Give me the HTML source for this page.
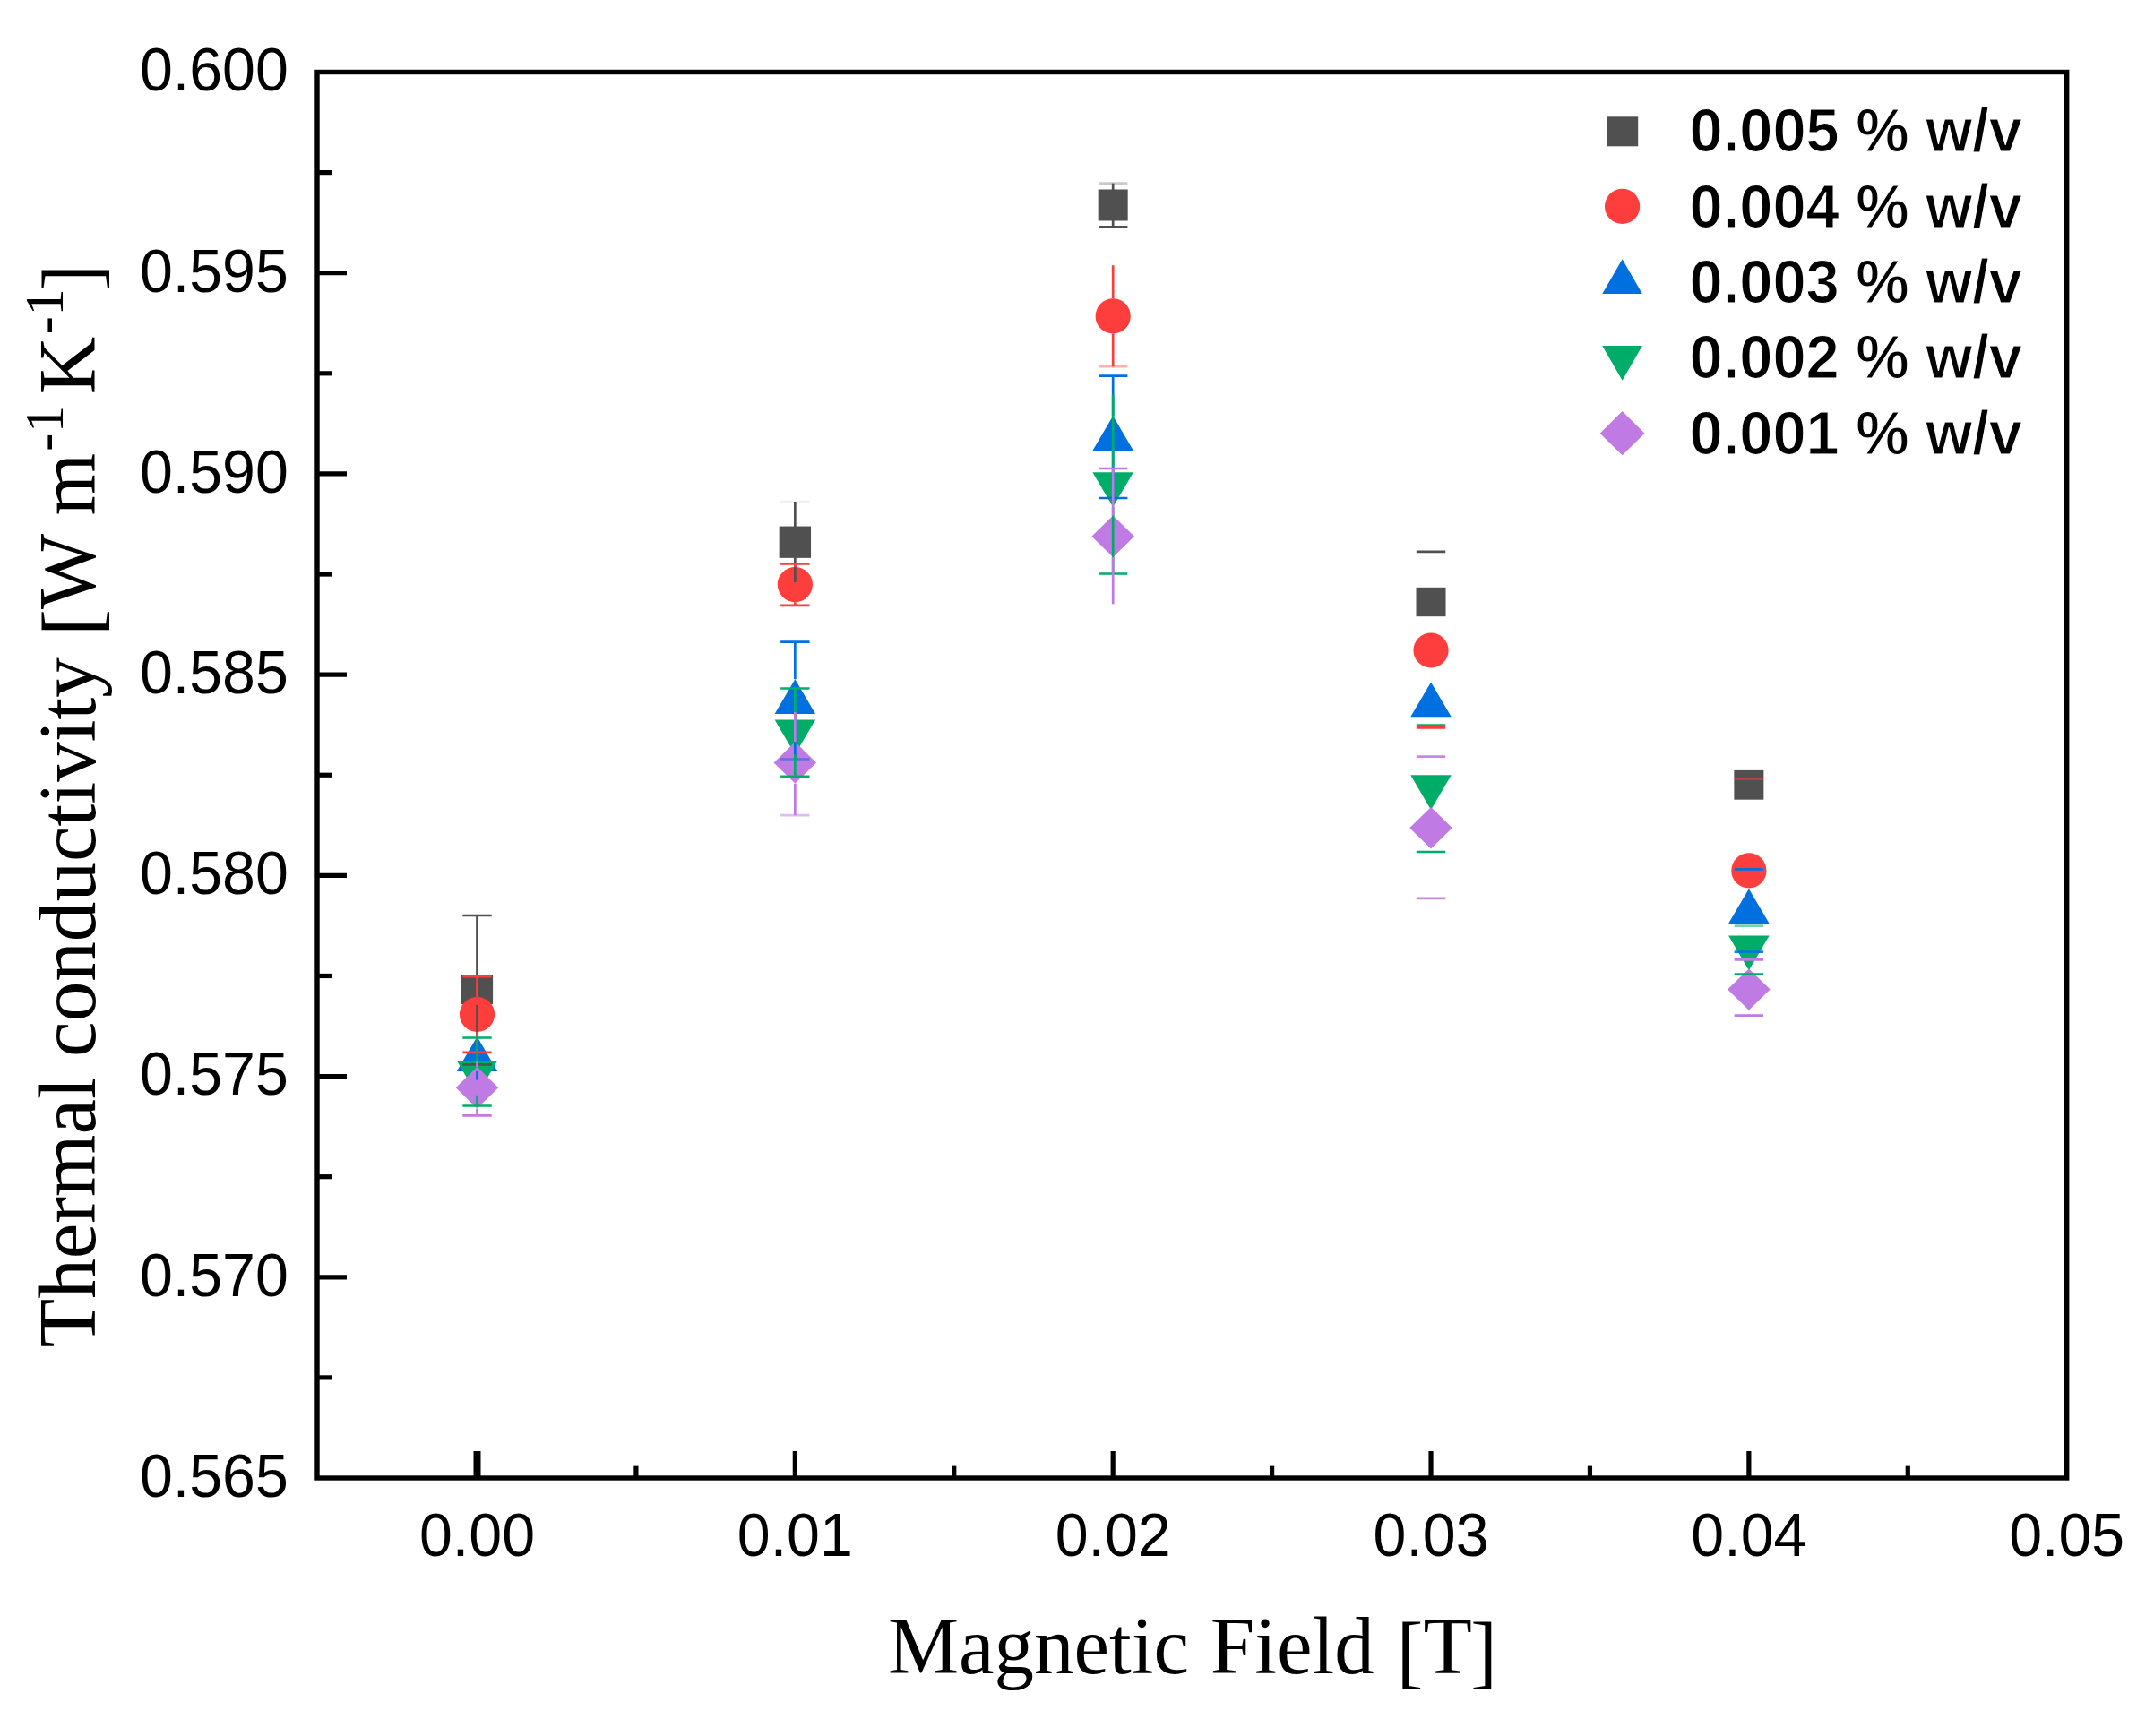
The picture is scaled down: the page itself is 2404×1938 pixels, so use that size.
<!DOCTYPE html>
<html lang="en"><head><meta charset="utf-8"><title>Thermal conductivity vs magnetic field</title>
<style>
html,body{margin:0;padding:0;background:#fff;}
body{width:2404px;height:1938px;overflow:hidden;}
svg{display:block;}
.tick{font-family:"Liberation Sans",sans-serif;font-size:66.3px;fill:#000;}
.leg{font-family:"Liberation Sans",sans-serif;font-size:66.8px;font-weight:bold;fill:#000;stroke:#fff;stroke-width:1.2px;stroke-linejoin:round;}
.ttl{font-family:"Liberation Serif",serif;font-size:89px;fill:#000;}
.sup{font-size:60px;}
</style></head><body>
<svg width="2404" height="1938" viewBox="0 0 2404 1938">
<rect x="0" y="0" width="2404" height="1938" fill="#ffffff"/>
<g id="frame" fill="none" stroke="#000" stroke-width="5.40" stroke-linecap="butt">
<rect x="354.00" y="80.50" width="1952.70" height="1569.50"/>
</g>
<g id="ticks" stroke="#000" stroke-width="5.20">
<line x1="354.00" y1="192.61" x2="370.80" y2="192.61"/>
<line x1="354.00" y1="304.71" x2="387.00" y2="304.71"/>
<line x1="354.00" y1="416.82" x2="370.80" y2="416.82"/>
<line x1="354.00" y1="528.93" x2="387.00" y2="528.93"/>
<line x1="354.00" y1="641.04" x2="370.80" y2="641.04"/>
<line x1="354.00" y1="753.14" x2="387.00" y2="753.14"/>
<line x1="354.00" y1="865.25" x2="370.80" y2="865.25"/>
<line x1="354.00" y1="977.36" x2="387.00" y2="977.36"/>
<line x1="354.00" y1="1089.46" x2="370.80" y2="1089.46"/>
<line x1="354.00" y1="1201.57" x2="387.00" y2="1201.57"/>
<line x1="354.00" y1="1313.68" x2="370.80" y2="1313.68"/>
<line x1="354.00" y1="1425.79" x2="387.00" y2="1425.79"/>
<line x1="354.00" y1="1537.89" x2="370.80" y2="1537.89"/>
<line x1="532.50" y1="1650.00" x2="532.50" y2="1620.00" stroke-width="8"/>
<line x1="709.92" y1="1650.00" x2="709.92" y2="1636.60"/>
<line x1="887.34" y1="1650.00" x2="887.34" y2="1620.00"/>
<line x1="1064.76" y1="1650.00" x2="1064.76" y2="1636.60"/>
<line x1="1242.18" y1="1650.00" x2="1242.18" y2="1620.00"/>
<line x1="1419.60" y1="1650.00" x2="1419.60" y2="1636.60"/>
<line x1="1597.02" y1="1650.00" x2="1597.02" y2="1620.00"/>
<line x1="1774.44" y1="1650.00" x2="1774.44" y2="1636.60"/>
<line x1="1951.86" y1="1650.00" x2="1951.86" y2="1620.00"/>
<line x1="2129.28" y1="1650.00" x2="2129.28" y2="1636.60"/>
</g>
<g id="ylabels" class="tick" text-anchor="end">
<text transform="translate(321.80 101.30) scale(1 1.045)">0.600</text>
<text transform="translate(321.80 325.51) scale(1 1.045)">0.595</text>
<text transform="translate(321.80 549.73) scale(1 1.045)">0.590</text>
<text transform="translate(321.80 773.94) scale(1 1.045)">0.585</text>
<text transform="translate(321.80 998.16) scale(1 1.045)">0.580</text>
<text transform="translate(321.80 1222.37) scale(1 1.045)">0.575</text>
<text transform="translate(321.80 1446.59) scale(1 1.045)">0.570</text>
<text transform="translate(321.80 1670.80) scale(1 1.045)">0.565</text>
</g>
<g id="xlabels" class="tick" text-anchor="middle">
<text transform="translate(532.50 1736.90) scale(1 1.045)">0.00</text>
<text transform="translate(887.34 1736.90) scale(1 1.045)">0.01</text>
<text transform="translate(1242.18 1736.90) scale(1 1.045)">0.02</text>
<text transform="translate(1597.02 1736.90) scale(1 1.045)">0.03</text>
<text transform="translate(1951.86 1736.90) scale(1 1.045)">0.04</text>
<text transform="translate(2306.70 1736.90) scale(1 1.045)">0.05</text>
</g>
<text class="ttl" text-anchor="middle" transform="translate(1330.95 1868.40) scale(1 1.025)">Magnetic<tspan dx="1.5"> Field</tspan><tspan dx="3" dy="5"> [</tspan><tspan dy="-5">T</tspan><tspan dy="5" dx="-1.5">]</tspan></text>
<text class="ttl" style="font-size:89.2px" text-anchor="start" transform="translate(106.20 1504.30) rotate(-90) scale(1 1.03)">Thermal conductivity<tspan dx="2" dy="4"> [</tspan><tspan dy="-4">W m</tspan><tspan class="sup" dy="-35" dx="2 1">-1</tspan><tspan dy="35" dx="-9.6"> K</tspan><tspan class="sup" dy="-35" dx="2.5 0.7">-1</tspan><tspan dy="39" dx="-1.9">]</tspan></text>
<g id="legend">
<rect x="1793.00" y="130.30" width="35.20" height="33.00" fill="#505050"/>
<text class="leg" transform="translate(1885.60 169.30) scale(1 1.02)">0.005 % w/v</text>
<circle cx="1810.60" cy="230.40" r="19.6" fill="#fe3d3d"/>
<text class="leg" transform="translate(1885.60 253.60) scale(1 1.02)">0.004 % w/v</text>
<polygon points="1810.60,289.20 1832.90,327.90 1788.30,327.90" fill="#0070e0"/>
<text class="leg" transform="translate(1885.60 337.90) scale(1 1.02)">0.003 % w/v</text>
<polygon points="1810.60,424.80 1832.90,386.10 1788.30,386.10" fill="#00ad68"/>
<text class="leg" transform="translate(1885.60 422.20) scale(1 1.02)">0.002 % w/v</text>
<polygon points="1810.60,459.10 1835.50,483.70 1810.60,508.30 1785.70,483.70" fill="#c07ae4"/>
<text class="leg" transform="translate(1885.60 506.50) scale(1 1.02)">0.001 % w/v</text>
</g>
<g id="symbols">
<rect x="514.90" y="1088.80" width="35.20" height="32.40" fill="#505050"/>
<rect x="869.64" y="587.55" width="35.40" height="35.30" fill="#505050"/>
<rect x="1225.68" y="211.50" width="33.00" height="35.00" fill="#505050"/>
<rect x="1580.52" y="655.80" width="33.00" height="32.40" fill="#505050"/>
<rect x="1935.36" y="859.90" width="33.00" height="32.80" fill="#505050"/>
<circle cx="532.50" cy="1132.50" r="19.6" fill="#fe3d3d"/>
<circle cx="887.34" cy="652.60" r="19.6" fill="#fe3d3d"/>
<circle cx="1242.18" cy="352.90" r="19.6" fill="#fe3d3d"/>
<circle cx="1597.02" cy="726.00" r="19.6" fill="#fe3d3d"/>
<circle cx="1951.86" cy="971.90" r="19.6" fill="#fe3d3d"/>
<polygon points="532.50,1157.20 555.25,1195.90 509.75,1195.90" fill="#0070e0"/>
<polygon points="887.34,758.20 910.09,796.90 864.59,796.90" fill="#0070e0"/>
<polygon points="1242.18,464.20 1264.93,502.90 1219.43,502.90" fill="#0070e0"/>
<polygon points="1597.02,761.60 1619.77,800.30 1574.27,800.30" fill="#0070e0"/>
<polygon points="1951.86,992.20 1974.61,1030.90 1929.11,1030.90" fill="#0070e0"/>
<polygon points="532.50,1222.80 555.25,1184.10 509.75,1184.10" fill="#00ad68"/>
<polygon points="887.34,842.30 910.09,803.60 864.59,803.60" fill="#00ad68"/>
<polygon points="1242.18,566.00 1264.93,527.30 1219.43,527.30" fill="#00ad68"/>
<polygon points="1597.02,904.00 1619.77,865.30 1574.27,865.30" fill="#00ad68"/>
<polygon points="1951.86,1083.30 1974.61,1044.60 1929.11,1044.60" fill="#00ad68"/>
<polygon points="532.50,1191.10 556.30,1214.30 532.50,1237.50 508.70,1214.30" fill="#c07ae4"/>
<polygon points="887.34,828.20 911.14,851.40 887.34,874.60 863.54,851.40" fill="#c07ae4"/>
<polygon points="1242.18,575.60 1265.98,598.80 1242.18,622.00 1218.38,598.80" fill="#c07ae4"/>
<polygon points="1597.02,901.00 1620.82,924.20 1597.02,947.40 1573.22,924.20" fill="#c07ae4"/>
<polygon points="1951.86,1081.40 1975.66,1104.60 1951.86,1127.80 1928.06,1104.60" fill="#c07ae4"/>
</g>
<g id="errorbars" fill="none">
<line x1="532.50" y1="1022.00" x2="532.50" y2="1088.00" stroke="#505050" stroke-width="2.70"/>
<line x1="532.50" y1="1122.00" x2="532.50" y2="1188.30" stroke="#505050" stroke-width="2.70"/>
<line x1="516.30" y1="1022.00" x2="548.70" y2="1022.00" stroke="#505050" stroke-width="2.70" stroke-opacity="1.00"/>
<line x1="516.30" y1="1188.30" x2="548.70" y2="1188.30" stroke="#505050" stroke-width="2.70" stroke-opacity="1.00"/>
<line x1="532.50" y1="1090.20" x2="532.50" y2="1112.90" stroke="#fe3d3d" stroke-width="2.70"/>
<line x1="532.50" y1="1152.10" x2="532.50" y2="1174.80" stroke="#fe3d3d" stroke-width="2.70"/>
<line x1="516.30" y1="1090.20" x2="548.70" y2="1090.20" stroke="#fe3d3d" stroke-width="2.70" stroke-opacity="1.00"/>
<line x1="516.30" y1="1174.80" x2="548.70" y2="1174.80" stroke="#fe3d3d" stroke-width="2.70" stroke-opacity="1.00"/>
<line x1="532.50" y1="1157.00" x2="532.50" y2="1157.20" stroke="#0070e0" stroke-width="2.70"/>
<line x1="532.50" y1="1195.90" x2="532.50" y2="1205.60" stroke="#0070e0" stroke-width="2.70"/>
<line x1="532.50" y1="1158.50" x2="532.50" y2="1184.10" stroke="#00ad68" stroke-width="2.70"/>
<line x1="532.50" y1="1222.80" x2="532.50" y2="1234.50" stroke="#00ad68" stroke-width="2.70"/>
<line x1="516.30" y1="1158.50" x2="548.70" y2="1158.50" stroke="#00ad68" stroke-width="2.70" stroke-opacity="1.00"/>
<line x1="516.30" y1="1234.50" x2="548.70" y2="1234.50" stroke="#00ad68" stroke-width="2.70" stroke-opacity="1.00"/>
<line x1="532.50" y1="1184.00" x2="532.50" y2="1191.10" stroke="#c07ae4" stroke-width="2.70"/>
<line x1="532.50" y1="1237.50" x2="532.50" y2="1245.40" stroke="#c07ae4" stroke-width="2.70"/>
<line x1="516.30" y1="1245.40" x2="548.70" y2="1245.40" stroke="#c07ae4" stroke-width="2.70" stroke-opacity="1.00"/>
<line x1="887.34" y1="560.00" x2="887.34" y2="588.20" stroke="#505050" stroke-width="2.70"/>
<line x1="887.34" y1="622.20" x2="887.34" y2="650.00" stroke="#505050" stroke-width="2.70"/>
<line x1="871.14" y1="560.00" x2="903.54" y2="560.00" stroke="#505050" stroke-width="2.70" stroke-opacity="0.08"/>
<line x1="887.34" y1="629.50" x2="887.34" y2="633.00" stroke="#fe3d3d" stroke-width="2.70"/>
<line x1="887.34" y1="672.20" x2="887.34" y2="675.90" stroke="#fe3d3d" stroke-width="2.70"/>
<line x1="871.14" y1="629.50" x2="903.54" y2="629.50" stroke="#fe3d3d" stroke-width="2.70" stroke-opacity="1.00"/>
<line x1="871.14" y1="675.90" x2="903.54" y2="675.90" stroke="#fe3d3d" stroke-width="2.70" stroke-opacity="1.00"/>
<line x1="887.34" y1="716.60" x2="887.34" y2="758.20" stroke="#0070e0" stroke-width="2.70"/>
<line x1="887.34" y1="796.90" x2="887.34" y2="847.50" stroke="#0070e0" stroke-width="2.70"/>
<line x1="871.14" y1="716.60" x2="903.54" y2="716.60" stroke="#0070e0" stroke-width="2.70" stroke-opacity="1.00"/>
<line x1="871.14" y1="847.50" x2="903.54" y2="847.50" stroke="#0070e0" stroke-width="2.70" stroke-opacity="0.55"/>
<line x1="887.34" y1="768.50" x2="887.34" y2="803.60" stroke="#00ad68" stroke-width="2.70"/>
<line x1="887.34" y1="842.30" x2="887.34" y2="866.90" stroke="#00ad68" stroke-width="2.70"/>
<line x1="871.14" y1="768.50" x2="903.54" y2="768.50" stroke="#00ad68" stroke-width="2.70" stroke-opacity="1.00"/>
<line x1="871.14" y1="866.90" x2="903.54" y2="866.90" stroke="#00ad68" stroke-width="2.70" stroke-opacity="1.00"/>
<line x1="887.34" y1="795.00" x2="887.34" y2="828.20" stroke="#c07ae4" stroke-width="2.70"/>
<line x1="887.34" y1="874.60" x2="887.34" y2="910.20" stroke="#c07ae4" stroke-width="2.70"/>
<line x1="871.14" y1="910.20" x2="903.54" y2="910.20" stroke="#c07ae4" stroke-width="2.70" stroke-opacity="0.50"/>
<line x1="1242.18" y1="204.60" x2="1242.18" y2="212.00" stroke="#505050" stroke-width="2.70"/>
<line x1="1242.18" y1="246.00" x2="1242.18" y2="253.40" stroke="#505050" stroke-width="2.70"/>
<line x1="1225.98" y1="204.60" x2="1258.38" y2="204.60" stroke="#505050" stroke-width="2.70" stroke-opacity="0.30"/>
<line x1="1225.98" y1="253.40" x2="1258.38" y2="253.40" stroke="#505050" stroke-width="2.70" stroke-opacity="1.00"/>
<line x1="1242.18" y1="296.20" x2="1242.18" y2="333.30" stroke="#fe3d3d" stroke-width="2.70"/>
<line x1="1242.18" y1="372.50" x2="1242.18" y2="409.20" stroke="#fe3d3d" stroke-width="2.70"/>
<line x1="1225.98" y1="409.20" x2="1258.38" y2="409.20" stroke="#fe3d3d" stroke-width="2.70" stroke-opacity="0.40"/>
<line x1="1242.18" y1="419.70" x2="1242.18" y2="464.20" stroke="#0070e0" stroke-width="2.70"/>
<line x1="1242.18" y1="502.90" x2="1242.18" y2="556.00" stroke="#0070e0" stroke-width="2.70"/>
<line x1="1225.98" y1="419.70" x2="1258.38" y2="419.70" stroke="#0070e0" stroke-width="2.70" stroke-opacity="1.00"/>
<line x1="1225.98" y1="556.00" x2="1258.38" y2="556.00" stroke="#0070e0" stroke-width="2.70" stroke-opacity="1.00"/>
<line x1="1242.18" y1="440.60" x2="1242.18" y2="527.30" stroke="#00ad68" stroke-width="2.70"/>
<line x1="1242.18" y1="566.00" x2="1242.18" y2="640.50" stroke="#00ad68" stroke-width="2.70"/>
<line x1="1225.98" y1="640.50" x2="1258.38" y2="640.50" stroke="#00ad68" stroke-width="2.70" stroke-opacity="1.00"/>
<line x1="1242.18" y1="523.00" x2="1242.18" y2="575.60" stroke="#c07ae4" stroke-width="2.70"/>
<line x1="1242.18" y1="622.00" x2="1242.18" y2="674.30" stroke="#c07ae4" stroke-width="2.70"/>
<line x1="1225.98" y1="523.00" x2="1258.38" y2="523.00" stroke="#c07ae4" stroke-width="2.70" stroke-opacity="1.00"/>
<line x1="1580.82" y1="615.80" x2="1613.22" y2="615.80" stroke="#505050" stroke-width="2.70" stroke-opacity="1.00"/>
<line x1="1580.82" y1="809.50" x2="1613.22" y2="809.50" stroke="#00ad68" stroke-width="2.70" stroke-opacity="1.00"/>
<line x1="1580.82" y1="951.00" x2="1613.22" y2="951.00" stroke="#00ad68" stroke-width="2.70" stroke-opacity="1.00"/>
<line x1="1580.82" y1="812.40" x2="1613.22" y2="812.40" stroke="#fe3d3d" stroke-width="2.70" stroke-opacity="1.00"/>
<line x1="1580.82" y1="844.70" x2="1613.22" y2="844.70" stroke="#c07ae4" stroke-width="2.70" stroke-opacity="0.90"/>
<line x1="1580.82" y1="1002.90" x2="1613.22" y2="1002.90" stroke="#c07ae4" stroke-width="2.70" stroke-opacity="0.90"/>
<line x1="1935.66" y1="869.40" x2="1968.06" y2="869.40" stroke="#fe3d3d" stroke-width="2.70" stroke-opacity="0.60"/>
<line x1="1935.66" y1="970.40" x2="1968.06" y2="970.40" stroke="#0070e0" stroke-width="2.70" stroke-opacity="1.00"/>
<line x1="1935.66" y1="1062.60" x2="1968.06" y2="1062.60" stroke="#0070e0" stroke-width="2.70" stroke-opacity="0.90"/>
<line x1="1935.66" y1="1033.60" x2="1968.06" y2="1033.60" stroke="#00ad68" stroke-width="2.70" stroke-opacity="0.55"/>
<line x1="1935.66" y1="1087.50" x2="1968.06" y2="1087.50" stroke="#00ad68" stroke-width="2.70" stroke-opacity="1.00"/>
<line x1="1935.66" y1="1071.30" x2="1968.06" y2="1071.30" stroke="#c07ae4" stroke-width="2.70" stroke-opacity="1.00"/>
<line x1="1935.66" y1="1133.60" x2="1968.06" y2="1133.60" stroke="#c07ae4" stroke-width="2.70" stroke-opacity="1.00"/>
</g>
</svg>
</body></html>
